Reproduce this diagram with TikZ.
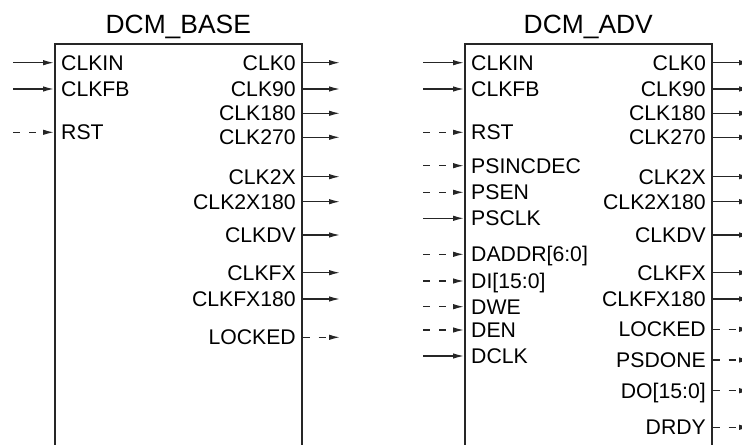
\documentclass[tikz,border=0pt]{standalone}
\usepackage{fontspec}
\setmainfont{Liberation Sans}
\usetikzlibrary{positioning, arrows.meta}

\begin{document}
\begin{tikzpicture}[x=1bp, y=-1bp]
\tikzstyle{block}=[rectangle, draw=black!85, line width=2bp, minimum width=246.5bp, minimum height=430bp, anchor=north west, inner sep=0pt]
\tikzstyle{title}=[font=\fontsize{26.5}{32}\selectfont, inner sep=0pt]
\tikzstyle{pin}=[font=\fontsize{21.3}{25}\selectfont, inner sep=0pt, text height=15.2bp, text depth=0pt]
\tikzstyle{connect}=[-{Latex[length=11bp, width=5.5bp]}, line width=1.3bp, draw=black!85]
\tikzstyle{ctrl}=[connect, dash pattern=on 7bp off 9bp]
    \useasboundingbox (0,0) rectangle (742,445);
    \node[block] (base) at (54,43) {};
    \node[block] (adv) at (464,43) {};
    \node[title, above=9.7bp of base, anchor=base] (base-title) {DCM\_BASE};
    \node[title, above=9.7bp of adv, anchor=base] (adv-title) {DCM\_ADV};
    \foreach \y/\txt/\sty [count=\i] in {62.7/CLKIN/connect, 89/CLKFB/connect, 132.3/RST/ctrl}{
        \node[pin, anchor=west] (base-in\i) at (61,\y) {\txt};
        \coordinate (base-src\i) at (13,\y);
        \draw[\sty] (base-src\i) -- (base-src\i -| base.west);
    }
    \foreach \y/\txt/\sty [count=\i] in {62.7/CLK0/connect, 89/CLK90/connect, 113.3/CLK180/connect, 137.3/CLK270/connect, 176.7/CLK2X/connect, 201.7/CLK2X180/connect, 235/CLKDV/connect, 272.7/CLKFX/connect, 299/CLKFX180/connect, 337.3/LOCKED/ctrl}{
        \node[pin, anchor=east] (base-out\i) at (296,\y) {\txt};
        \coordinate (base-dst\i) at (340,\y);
        \draw[\sty] (base-dst\i -| base.east) -- (base-dst\i);
    }
    \foreach \y/\txt/\sty [count=\i] in {62.7/CLKIN/connect, 89/CLKFB/connect, 132.3/RST/ctrl, 165.7/PSINCDEC/ctrl, 192.3/PSEN/ctrl, 218.3/PSCLK/connect, 254.3/DADDR[6:0]/ctrl, 281/DI[15:0]/ctrl, 306.7/DWE/ctrl, 330/DEN/ctrl, 356/DCLK/connect}{
        \node[pin, anchor=west] (adv-in\i) at (471,\y) {\txt};
        \coordinate (adv-src\i) at (423,\y);
        \draw[\sty] (adv-src\i) -- (adv-src\i -| adv.west);
    }
    \foreach \y/\txt/\sty [count=\i] in {62.7/CLK0/connect, 89/CLK90/connect, 113.3/CLK180/connect, 137.3/CLK270/connect, 176.7/CLK2X/connect, 201.7/CLK2X180/connect, 235/CLKDV/connect, 272.7/CLKFX/connect, 299/CLKFX180/connect, 329.3/LOCKED/ctrl, 360/PSDONE/ctrl, 390.7/DO[15:0]/ctrl, 427.3/DRDY/ctrl}{
        \node[pin, anchor=east] (adv-out\i) at (706,\y) {\txt};
        \coordinate (adv-dst\i) at (750,\y);
        \draw[\sty] (adv-dst\i -| adv.east) -- (adv-dst\i);
    }
\end{tikzpicture}
\end{document}
